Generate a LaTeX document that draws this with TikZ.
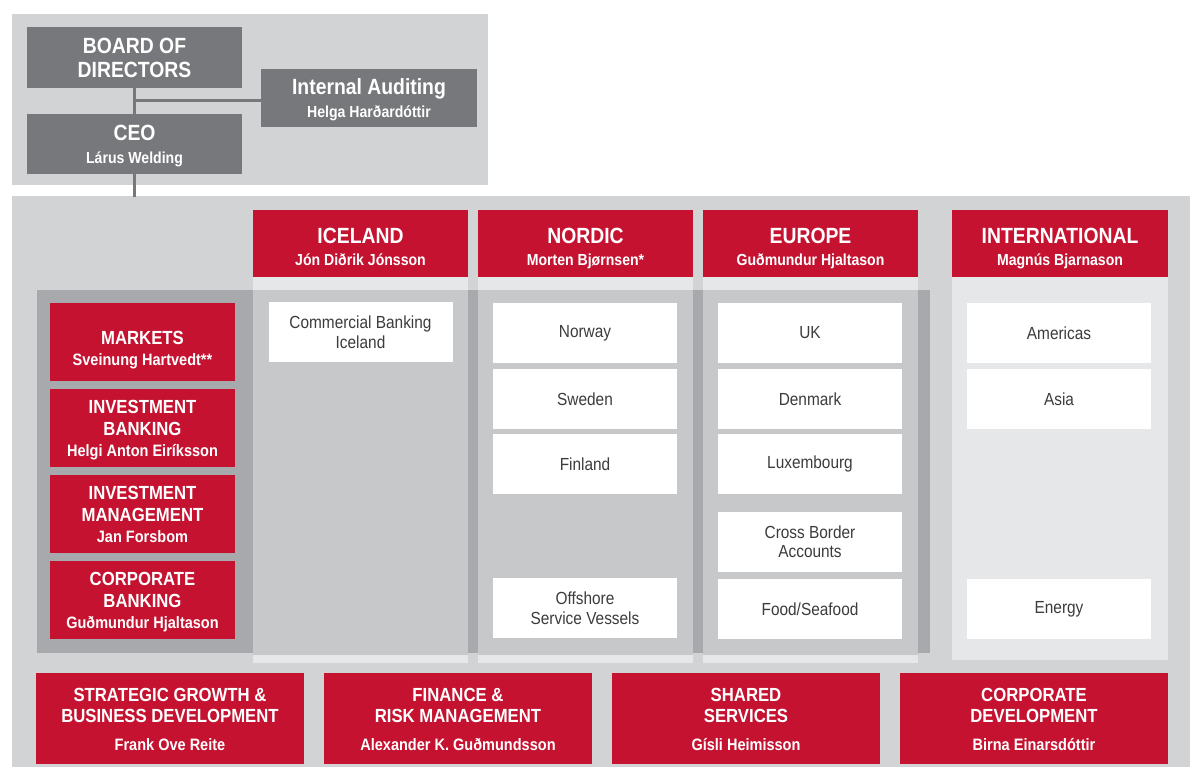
\documentclass[tikz,border=0pt]{standalone}
\usepackage{fontspec}
\setmainfont{Liberation Sans}[FakeStretch=0.88]
\definecolor{lred}{HTML}{C41230}
\definecolor{dgray}{HTML}{77787B}
\definecolor{bglight}{HTML}{D1D3D4}
\definecolor{banddark}{HTML}{A7A9AC}
\definecolor{collight}{HTML}{E6E7E8}
\definecolor{colmed}{HTML}{C7C8CA}
\definecolor{txtgray}{HTML}{3C3C3C}
\newcommand\SubStrut{\rule[-4.5pt]{0pt}{1pt}}
\newcommand\HdTitle{\fontsize{22}{24}\selectfont\bfseries}
\newcommand\HdSub{\fontsize{16}{20}\selectfont\bfseries\SubStrut}
\newcommand\UnTitle{\fontsize{19}{21.5}\selectfont\bfseries}
\newcommand\UnSub{\fontsize{16.5}{20}\selectfont\bfseries\SubStrut}
\newcommand\TopPad[1]{\rule{0pt}{#1}}
\begin{document}
\begin{tikzpicture}[x=1pt,y=-1pt,
  gbox/.style={fill=dgray,text=white,inner sep=0pt,align=center,font=\HdTitle},
  hdbox/.style={fill=lred,text=white,inner sep=0pt,align=center,font=\HdTitle,minimum width=215pt,minimum height=67pt},
  unitbox/.style={fill=lred,text=white,inner sep=0pt,align=center,font=\UnTitle,minimum width=185pt,minimum height=78pt},
  botbox/.style={fill=lred,text=white,inner sep=0pt,align=center,font=\UnTitle,minimum width=268pt,minimum height=91pt},
  wbox/.style={fill=white,text=txtgray,inner sep=0pt,align=center,font=\fontsize{17.5}{19.5}\selectfont,minimum width=184pt,minimum height=60pt},
  conn/.style={draw=dgray,line width=3pt}]
\useasboundingbox (0,0) rectangle (1190,767);
\fill[white] (0,0) rectangle (1190,767);
% panels
\fill[bglight] (12,14) rectangle (488,185);
\fill[bglight] (12,196) rectangle (1190,767);
\fill[banddark] (37,290) rectangle (930,653);
\foreach \xa/\xb in {253/468,478/693,703/918}{
  \fill[collight] (\xa,277) rectangle (\xb,663);
  \fill[colmed] (\xa,290) rectangle (\xb,655);
}
\fill[collight] (952,277) rectangle (1168,660);
% top
\node[gbox,minimum width=215pt,minimum height=61pt] (board) at (134.5,57.5) {BOARD OF\\DIRECTORS};
\node[gbox,minimum width=216pt,minimum height=58pt] (audit) at (369,98) {\TopPad{20pt}Internal Auditing\\[-1pt]{\HdSub Helga Harðardóttir}};
\node[gbox,minimum width=215pt,minimum height=60pt] (ceo) at (134.5,144) {\TopPad{20pt}CEO\\[-1pt]{\HdSub Lárus Welding}};
\coordinate (maintop) at (134.5,197);
\draw[conn] (board.south) -- (ceo.north);
\draw[conn] ([yshift=-3pt]audit.west) -- ([yshift=-3pt]audit.west -| board.south);
\draw[conn] (ceo.south) -- (maintop);
% headers
\node[hdbox] (ice) at (360.5,243.5) {\TopPad{27pt}ICELAND\\[-2pt]{\HdSub Jón Diðrik Jónsson}};
\node[hdbox] (nor) at (585.5,243.5) {\TopPad{27pt}NORDIC\\[-2pt]{\HdSub Morten Bjørnsen*}};
\node[hdbox] (eur) at (810.5,243.5) {\TopPad{27pt}EUROPE\\[-2pt]{\HdSub Guðmundur Hjaltason}};
\node[hdbox,minimum width=216pt] (intl) at (1060,243.5) {\TopPad{27pt}INTERNATIONAL\\[-2pt]{\HdSub Magnús Bjarnason}};
% units
\node[unitbox] (mkt) at (142.5,342) {\TopPad{30pt}MARKETS\\[0pt]{\UnSub Sveinung Hartvedt**}};
\node[unitbox] (ib) at (142.5,427.5) {\TopPad{20pt}INVESTMENT\\BANKING\\[0pt]{\UnSub Helgi Anton Eiríksson}};
\node[unitbox] (im) at (142.5,514) {\TopPad{19pt}INVESTMENT\\MANAGEMENT\\[0pt]{\UnSub Jan Forsbom}};
\node[unitbox] (cb) at (142.5,600) {\TopPad{19pt}CORPORATE\\BANKING\\[0pt]{\UnSub Guðmundur Hjaltason}};
% white boxes
\node[wbox] (cbi) at (360.5,332) {Commercial Banking\\Iceland};
\node[wbox] (norw) at (585,333) {Norway};
\node[wbox] (swe) at (585,399) {Sweden};
\node[wbox] (fin) at (585,464) {Finland};
\node[wbox] (osv) at (585,608) {Offshore\\Service Vessels};
\node[wbox] (uk) at (810,333) {UK};
\node[wbox] (den) at (810,399) {Denmark};
\node[wbox] (lux) at (810,464) {Luxembourg};
\node[wbox] (cba) at (810,541.5) {Cross Border\\Accounts};
\node[wbox] (food) at (810,609) {Food/Seafood};
\node[wbox] (ame) at (1059,333) {Americas};
\node[wbox] (asia) at (1059,399) {Asia};
\node[wbox] (ener) at (1059,609) {Energy};
% bottom
\node[botbox] (sg) at (170,718.5) {\TopPad{19pt}STRATEGIC GROWTH \&\\BUSINESS DEVELOPMENT\\[6pt]{\UnSub Frank Ove Reite}};
\node[botbox] (fr) at (458,718.5) {\TopPad{19pt}FINANCE \&\\RISK MANAGEMENT\\[6pt]{\UnSub Alexander K. Guðmundsson}};
\node[botbox] (ss) at (746,718.5) {\TopPad{19pt}SHARED\\SERVICES\\[6pt]{\UnSub Gísli Heimisson}};
\node[botbox] (cd) at (1034,718.5) {\TopPad{19pt}CORPORATE\\DEVELOPMENT\\[6pt]{\UnSub Birna Einarsdóttir}};
\end{tikzpicture}
\end{document}
